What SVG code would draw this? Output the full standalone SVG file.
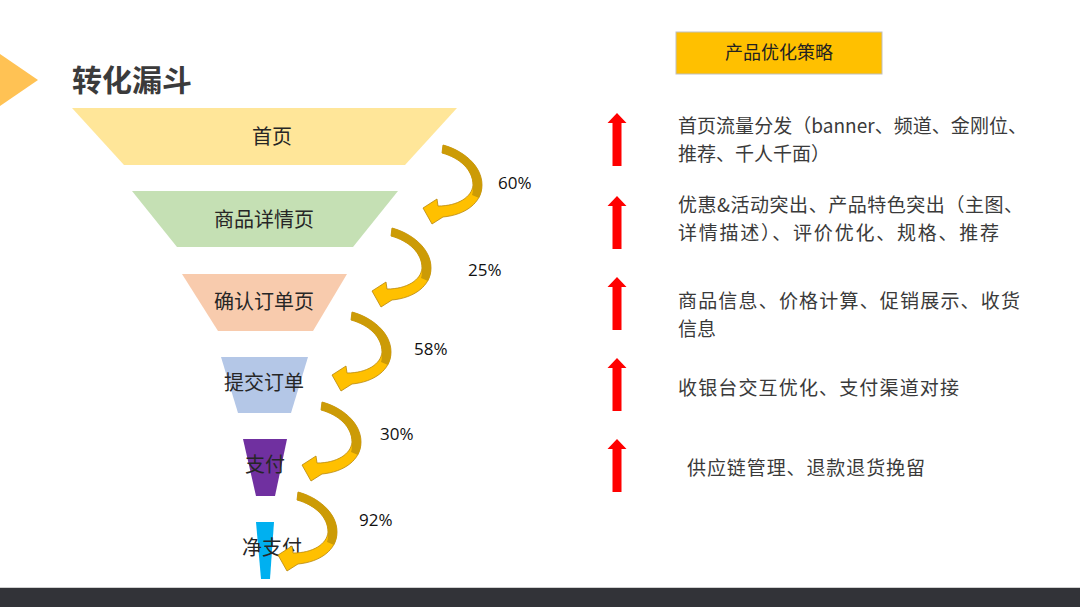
<svg xmlns="http://www.w3.org/2000/svg" xmlns:xlink="http://www.w3.org/1999/xlink" width="1080" height="607" viewBox="0 0 1080 607">
<style>
.lbl{font-family:"Noto Sans CJK SC","Noto Sans",sans-serif;font-size:20px;fill:#262626;text-anchor:middle}
.pct{font-family:"Open Sans","Liberation Sans",sans-serif;font-size:17px;fill:#111}
.rt{font-family:"Noto Sans CJK SC","Noto Sans",sans-serif;font-size:19px;fill:#3a3a3a}
.up{fill:#FF0000}
</style>
<defs>
<g id="curl">
<path d="M443,145 C462,150 482,165 482,185 C482,203 465,215 443,217 L432,224 L423,208 L437,199 L438,206 C458,206 472,197 473,185 C473,170 460,158 442,153 Z" fill="#FFC000" stroke="#B8860B" stroke-width="0.8"/>
<path d="M443,145 C462,150 482,165 482,185 C482,190 481,194 479,198 L472,195 C473,192 473,189 473,185 C473,170 460,158 442,153 Z" fill="#CC9B06"/>
</g>
<path id="redup" d="M0,0 L9.5,10 L4.5,10 L4.5,53 L-4.5,53 L-4.5,10 L-9.5,10 Z"/>
</defs>
<rect width="1080" height="607" fill="#FFFFFF"/>
<polygon points="0,54 38,80 0,106" fill="#FFC254"/>
<text x="72" y="91" font-family="'Noto Sans CJK SC','Noto Sans',sans-serif" font-size="30" font-weight="bold" fill="#3b3b3b">转化漏斗</text>

<g id="node-shouye"><polygon points="72,108 457,108 405,165 124,165" fill="#FFE699"/><text class="lbl" x="272" y="144">首页</text></g>
<g id="node-xiangqing"><polygon points="132,191 398,191 353,247 177,247" fill="#C5E0B4"/><text class="lbl" x="264" y="227">商品详情页</text></g>
<g id="node-queren"><polygon points="182,274 347,274 313,331 218,331" fill="#F8CBAD"/><text class="lbl" x="264" y="309">确认订单页</text></g>
<g id="node-tijiao"><polygon points="221,357 308,357 291,413 238,413" fill="#B4C7E7"/><text class="lbl" x="264" y="390">提交订单</text></g>
<g id="node-zhifu"><polygon points="243,439 287,439 275,496 256,496" fill="#7030A0"/><text class="lbl" x="265" y="472">支付</text></g>
<g id="node-jingzhifu"><polygon points="256,522 274,522 270,579 261,579" fill="#00B0F0"/><text class="lbl" x="272" y="555">净支付</text></g>

<g id="connectors">
<use xlink:href="#curl" href="#curl"/>
<use xlink:href="#curl" href="#curl" transform="translate(-51,83)"/>
<use xlink:href="#curl" href="#curl" transform="translate(-91,167)"/>
<use xlink:href="#curl" href="#curl" transform="translate(-121,257)"/>
<use xlink:href="#curl" href="#curl" transform="translate(-145,347)"/>
<text class="pct" x="498" y="189">60%</text>
<text class="pct" x="468" y="276">25%</text>
<text class="pct" x="414" y="355">58%</text>
<text class="pct" x="380" y="440">30%</text>
<text class="pct" x="359" y="526">92%</text>
</g>

<g id="strategy-header"><rect x="676" y="32" width="206" height="42" fill="#FFC000" stroke="#BFBFBF" stroke-width="1"/><text x="779" y="59" text-anchor="middle" font-family="'Noto Sans CJK SC','Noto Sans',sans-serif" font-size="18" fill="#222">产品优化策略</text></g>

<g id="strategies">
<use xlink:href="#redup" href="#redup" class="up" transform="translate(617,113)"/>
<use xlink:href="#redup" href="#redup" class="up" transform="translate(617,196)"/>
<use xlink:href="#redup" href="#redup" class="up" transform="translate(617,277)"/>
<use xlink:href="#redup" href="#redup" class="up" transform="translate(617,358)"/>
<use xlink:href="#redup" href="#redup" class="up" transform="translate(617,439)"/>
<text class="rt" x="678" y="133" textLength="349">首页流量分发（banner、频道、金刚位、</text>
<text class="rt" x="678" y="161" textLength="152">推荐、千人千面）</text>
<text class="rt" x="678" y="212" textLength="345">优惠&amp;活动突出、产品特色突出（主图、</text>
<text class="rt" x="678" y="240" textLength="321">详情描述）、评价优化、规格、推荐</text>
<text class="rt" x="678" y="308" textLength="342">商品信息、价格计算、促销展示、收货</text>
<text class="rt" x="678" y="336">信息</text>
<text class="rt" x="678" y="395" textLength="281">收银台交互优化、支付渠道对接</text>
<text class="rt" x="687" y="475" textLength="238">供应链管理、退款退货挽留</text>
</g>

<rect x="0" y="587" width="1080" height="1" fill="#D0D0D0"/>
<rect x="0" y="588" width="1080" height="19" fill="#323338"/>
</svg>
